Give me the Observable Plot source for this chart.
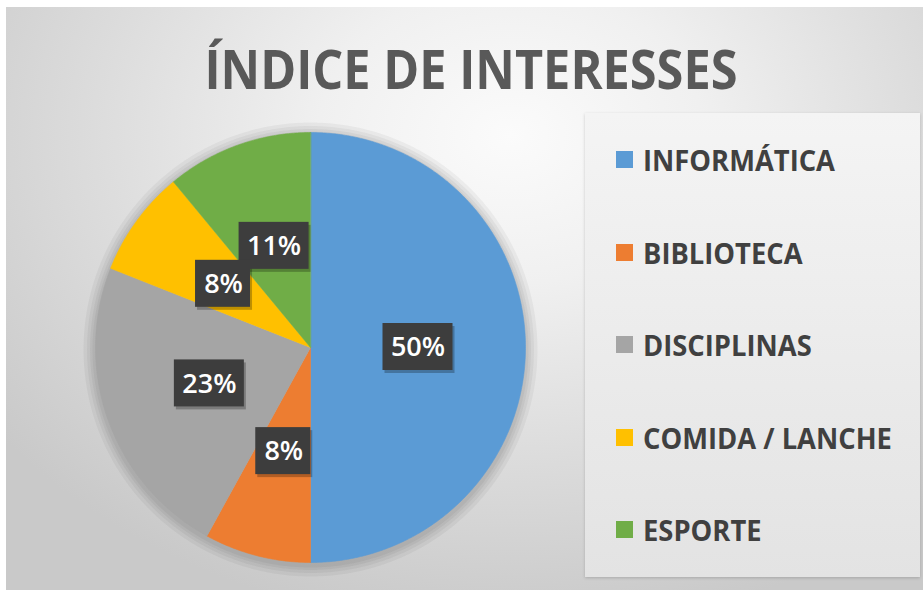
<!DOCTYPE html>
<html>
<head>
<meta charset="utf-8">
<script src="https://cdn.jsdelivr.net/npm/d3@7"></script>
<script src="https://cdn.jsdelivr.net/npm/@observablehq/plot@0.6"></script>
<style>
  html, body { margin: 0; padding: 0; background: #ffffff; }
  #wrap { position: relative; width: 923px; height: 590px; overflow: hidden; background: #ffffff; }
  #bg { position: absolute; left: 6px; top: 7px; width: 917px; height: 583px;
        background: radial-gradient(ellipse 70% 85% at 55% 22%, #fbfbfb 0%, #f0f0f0 30%, #dcdcdc 65%, #c9c9c9 100%); }
  #title { position: absolute; top: 41px; left: 471px; white-space: nowrap;
           font-family: "Open Sans", sans-serif; font-weight: 700; font-size: 54px; line-height: 54px;
           color: #595959; transform-origin: center top; }
  #legend { position: absolute; left: 585px; top: 113px; width: 335px; height: 464px;
            background: linear-gradient(#f4f4f4, #e3e3e3); box-shadow: 0 1px 3px rgba(0,0,0,0.18); }
  .lrow { position: absolute; left: 0; height: 28px; white-space: nowrap; }
  .lsw { position: absolute; left: 31px; top: 5px; width: 17px; height: 17px; }
  .ltx { position: absolute; left: 58px; top: 0; font-family: "Open Sans", sans-serif; font-weight: 700;
         font-size: 28px; line-height: 28px; color: #404040; transform-origin: left top; }
  #chart { position: absolute; left: 0; top: 0; }
</style>
</head>
<body>
<div id="wrap">
  <div id="bg"></div>
  <div id="chart"></div>
  <div id="title"></div>
  <div id="legend"></div>
</div>
<script>
const titleText = "ÍNDICE DE INTERESSES";
const categories = ["INFORMÁTICA", "BIBLIOTECA", "DISCIPLINAS", "COMIDA / LANCHE", "ESPORTE"];
const values = [50, 8, 23, 8, 11];
const labels = ["50%", "8%", "23%", "8%", "11%"];
const colors = ["#5B9BD5", "#ED7D31", "#A5A5A5", "#FFC000", "#70AD47"];

// pie geometry from data
const arcs = d3.pie().sort(null).value((d, i) => values[i])(categories);
const slicePts = arcs.flatMap((a, i) => {
  const n = Math.max(2, Math.ceil((a.endAngle - a.startAngle) / (Math.PI / 360)));
  const pts = [{cat: categories[i], x: 0, y: 0, rim: false}];
  for (let k = 0; k <= n; k++) {
    const t = a.startAngle + (a.endAngle - a.startAngle) * k / n;
    pts.push({cat: categories[i], x: Math.sin(t), y: Math.cos(t), rim: true});
  }
  return pts;
});
const rimPts = slicePts.filter(d => d.rim);
const labelR = 0.5;
const labelData = arcs.map((a, i) => {
  const m = (a.startAngle + a.endAngle) / 2;
  return {label: labels[i], x: labelR * Math.sin(m), y: labelR * Math.cos(m)};
});
const wide = labelData.filter(d => d.label.length >= 3);
const narrow = labelData.filter(d => d.label.length < 3);

// soft halo behind the pie: layered translucent outlines of the whole rim
const shadowMarks = [24, 17, 11, 6].map(w =>
  Plot.line(rimPts, {x: "x", y: "y", fill: "none", stroke: "#000000", strokeOpacity: 0.045,
                     strokeWidth: w, dy: 2, curve: "linear-closed"}));
const sliceMarks = categories.map((c, i) =>
  Plot.line(slicePts.filter(d => d.cat === c), {x: "x", y: "y", fill: colors[i], stroke: colors[i],
                                                 strokeWidth: 0.6, curve: "linear-closed"}));

const boxMarks = (data, left, right, dx, dy, fill, opacity) =>
  Plot.rect(data, {x1: "x", x2: "x", y1: "y", y2: "y", insetLeft: -left, insetRight: -right,
                   insetTop: -24, insetBottom: -23, dx, dy, fill, fillOpacity: opacity});

const chart = Plot.plot({
  width: 923,
  height: 590,
  marginLeft: 95,
  marginRight: 398,
  marginTop: 132,
  marginBottom: 28,
  style: {background: "transparent", overflow: "visible"},
  x: {domain: [-1, 1], axis: null},
  y: {domain: [-1, 1], axis: null},
  marks: [
    ...shadowMarks,
    ...sliceMarks,
    boxMarks(wide, 35, 35, 2, 3, "#000000", 0.25),
    boxMarks(narrow, 28, 27, 2, 3, "#000000", 0.25),
    boxMarks(wide, 35, 35, 0, 0, "#3d3d3d", 1),
    boxMarks(narrow, 28, 27, 0, 0, "#3d3d3d", 1),
    Plot.text(labelData, {x: "x", y: "y", text: "label", fill: "white", fontSize: 27, fontWeight: 600,
                          fontFamily: "Open Sans, sans-serif"})
  ]
});
document.getElementById("chart").appendChild(chart);

// title
const tEl = document.getElementById("title");
tEl.textContent = titleText;
const tw = tEl.getBoundingClientRect().width;
tEl.style.transform = `translateX(-50%) scaleX(${533 / tw})`;

// legend
const leg = document.getElementById("legend");
const rows = categories.map((c, i) => {
  const row = document.createElement("div");
  row.className = "lrow";
  row.style.top = (160 + i * 92.5 - 113 - 14) + "px";
  const sw = document.createElement("div");
  sw.className = "lsw";
  sw.style.background = colors[i];
  const tx = document.createElement("div");
  tx.className = "ltx";
  tx.textContent = c;
  row.appendChild(sw);
  row.appendChild(tx);
  leg.appendChild(row);
  return tx;
});
const lw = rows[0].getBoundingClientRect().width;
const ls = 192 / lw;
rows.forEach(t => t.style.transform = `scaleX(${ls})`);
</script>
</body>
</html>
